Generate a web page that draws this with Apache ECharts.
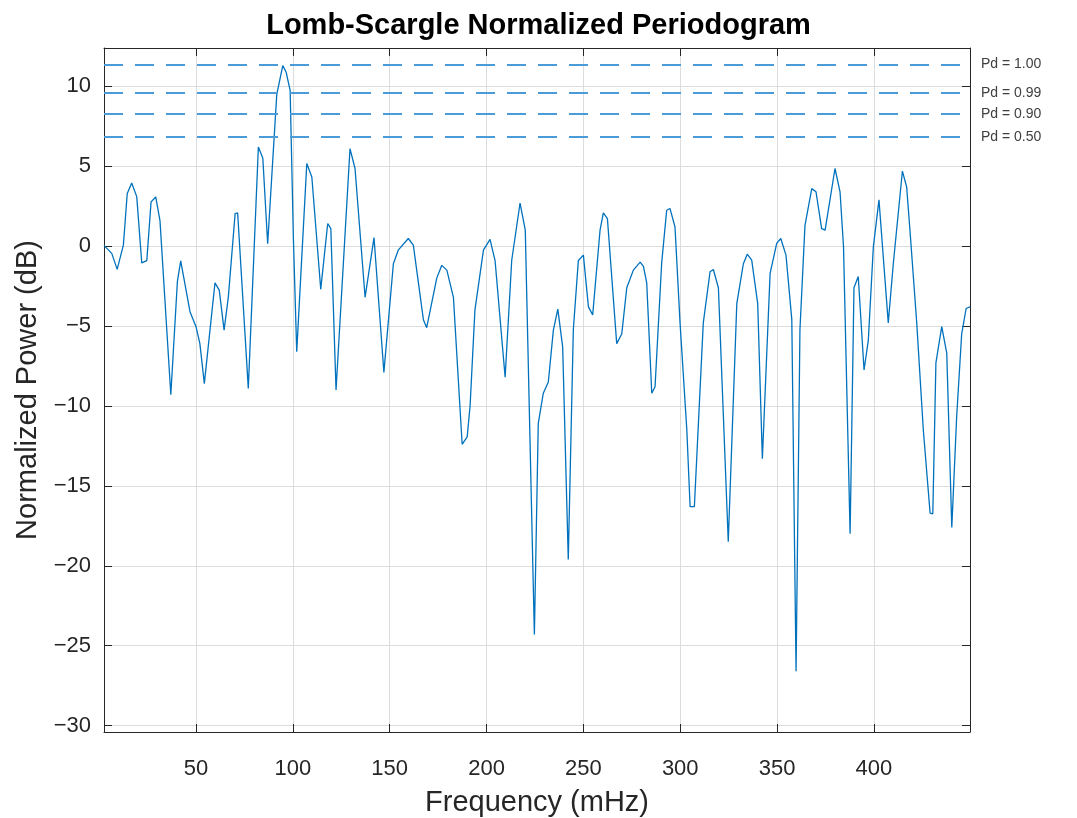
<!DOCTYPE html>
<html>
<head>
<meta charset="utf-8">
<script src="https://cdn.jsdelivr.net/npm/echarts@6/dist/echarts.min.js"></script>
<style>
  html, body { margin: 0; padding: 0; background: #ffffff; }
  #chart { width: 1077px; height: 818px; }
</style>
</head>
<body>
<div id="chart"></div>
<script>
// Frequency samples (mHz) and normalized power (dB)
const freq = [
  2.5, 6.5, 9.3, 12.5, 14.5, 16.8, 19.4, 22.0, 24.6, 26.8, 29.2, 31.4,
  37.0, 40.4, 42.1, 46.9, 50.0, 52.0, 54.3, 59.8, 62.0, 64.5, 66.7, 70.2,
  71.5, 77.0, 82.2, 84.5, 87.0, 91.7, 94.8, 96.5, 98.6, 100.3, 102.0, 107.2,
  109.8, 114.4, 118.0, 119.6, 122.3, 129.5, 132.1, 137.3, 141.9, 147.0, 151.9, 154.4,
  159.6, 162.2, 167.4, 169.1, 174.3, 176.9, 179.5, 182.9, 187.4, 190.0, 191.5, 194.0,
  198.4, 201.8, 204.4, 209.6, 213.0, 217.3, 220.0, 224.7, 226.7, 229.3, 231.9, 234.5,
  236.8, 239.3, 242.2, 244.8, 247.4, 250.0, 252.6, 254.8, 258.6, 260.3, 262.4, 267.2,
  269.8, 272.4, 275.8, 279.3, 281.0, 282.7, 285.3, 287.0, 290.4, 293.0, 294.7, 297.3,
  299.9, 303.4, 305.1, 307.3, 311.9, 315.4, 317.1, 319.7, 324.8, 329.2, 332.6, 334.6,
  336.9, 340.0, 342.4, 346.4, 349.8, 351.9, 354.6, 357.6, 359.8, 361.8, 364.4, 367.9,
  370.1, 373.0, 374.8, 379.9, 382.5, 384.3, 387.7, 389.7, 391.9, 394.9, 397.1, 399.7,
  402.6, 407.4, 410.0, 414.7, 416.9, 418.6, 422.1, 425.5, 429.0, 430.4, 432.0, 435.0,
  437.6, 440.2, 442.7, 445.3, 447.6, 449.6
];
const power = [
  0.05, -0.45, -1.45, 0.06, 3.3, 3.95, 3.1, -1.05, -0.9, 2.77, 3.08, 1.6,
  -9.3, -2.2, -0.92, -4.1, -5.04, -6.1, -8.6, -2.3, -2.75, -5.25, -3.17, 2.04,
  2.08, -8.9, 6.2, 5.5, 0.15, 9.5, 11.3, 10.9, 9.75, 0.4, -6.6, 5.17,
  4.33, -2.7, 1.42, 1.1, -9.0, 6.1, 4.86, -3.2, 0.54, -7.9, -1.1, -0.25,
  0.48, 0.06, -4.6, -5.1, -2.0, -1.2, -1.5, -3.2, -12.4, -11.94, -10.0, -4.0,
  -0.25, 0.42, -0.9, -8.2, -0.88, 2.7, 1.0, -24.3, -11.1, -9.2, -8.5, -5.25,
  -3.94, -6.3, -19.6, -5.25, -0.9, -0.56, -3.8, -4.3, 1.0, 2.08, 1.73, -6.1,
  -5.5, -2.6, -1.5, -1.0, -1.27, -2.3, -9.2, -8.8, -1.08, 2.25, 2.36, 1.2,
  -4.8, -11.5, -16.3, -16.3, -4.8, -1.6, -1.46, -2.6, -18.5, -3.6, -1.1, -0.5,
  -0.87, -3.6, -13.3, -1.7, 0.17, 0.48, -0.56, -4.6, -26.6, -5.25, 1.3, 3.6,
  3.4, 1.1, 1.0, 4.86, 3.4, -0.04, -18.0, -2.6, -1.9, -7.75, -5.9, -0.04,
  2.9, -4.8, -1.1, 4.7, 3.7, 1.0, -4.8, -11.5, -16.7, -16.75, -7.3, -5.04,
  -6.7, -17.6, -10.7, -5.5, -3.9, -3.8
];
// Detection-probability thresholds (dB) and their labels
const pdLevels = [11.36, 9.58, 8.29, 6.83];
const pdLabels = ['Pd = 1.00', 'Pd = 0.99', 'Pd = 0.90', 'Pd = 0.50'];

const xRange = [2.5, 449.6];
const yRange = [-30.4, 12.4];

const FONT = "'Liberation Sans', Arial, Helvetica, sans-serif";
const AXIS_COLOR = '#262626';
const GRID_COLOR = '#dcdcdc';

// Tick text uses a true minus sign for negative values
const tickText = (v, step) =>
  Math.abs(v % step) < 1e-6 ? (v < 0 ? '\u2212' + Math.abs(v) : String(v)) : '';

const chart = echarts.init(document.getElementById('chart'), null, { renderer: 'canvas' });

const points = freq.map((f, i) => [f, power[i]]);

// Secondary axes close the box and carry inward ticks on the top and right
const boxAxis = {
  type: 'value',
  axisLine: { show: true, onZero: false, lineStyle: { color: AXIS_COLOR, width: 1 } },
  axisTick: { show: true, inside: true, length: 8, lineStyle: { color: AXIS_COLOR, width: 1 } },
  axisLabel: { show: false },
  splitLine: { show: false }
};

chart.setOption({
  animation: false,
  backgroundColor: '#ffffff',
  title: {
    text: 'Lomb-Scargle Normalized Periodogram',
    left: 'center',
    top: 6,
    textStyle: { fontFamily: FONT, fontSize: 29, fontWeight: 'bold', color: '#000000' }
  },
  grid: {
    left: 104, right: 107, top: 48, bottom: 86,
    containLabel: false,
    outerBoundsMode: 'none'
  },
  xAxis: [
    {
      type: 'value',
      min: xRange[0], max: xRange[1], splitNumber: 9,
      name: 'Frequency (mHz)', nameLocation: 'middle', nameGap: 56,
      nameTextStyle: { fontFamily: FONT, fontSize: 29, color: AXIS_COLOR },
      axisLine: { show: true, onZero: false, lineStyle: { color: AXIS_COLOR, width: 1 } },
      axisTick: { show: true, inside: true, length: 8, lineStyle: { color: AXIS_COLOR } },
      axisLabel: {
        fontFamily: FONT, fontSize: 22, color: AXIS_COLOR, margin: 26,
        showMinLabel: false, showMaxLabel: false,
        formatter: v => tickText(v, 50)
      },
      splitLine: { show: true, lineStyle: { color: GRID_COLOR, width: 1 } }
    },
    Object.assign({}, boxAxis, { position: 'top', min: xRange[0], max: xRange[1], splitNumber: 9 })
  ],
  yAxis: [
    {
      type: 'value',
      min: yRange[0], max: yRange[1], splitNumber: 9,
      name: 'Normalized Power (dB)', nameLocation: 'middle', nameGap: 62,
      nameTextStyle: { fontFamily: FONT, fontSize: 29, color: AXIS_COLOR },
      axisLine: { show: true, onZero: false, lineStyle: { color: AXIS_COLOR, width: 1 } },
      axisTick: { show: true, inside: true, length: 8, lineStyle: { color: AXIS_COLOR } },
      axisLabel: {
        fontFamily: FONT, fontSize: 22, color: AXIS_COLOR, margin: 13,
        showMinLabel: false, showMaxLabel: false,
        formatter: v => tickText(v, 5)
      },
      splitLine: { show: true, lineStyle: { color: GRID_COLOR, width: 1 } }
    },
    Object.assign({}, boxAxis, { position: 'right', min: yRange[0], max: yRange[1], splitNumber: 9 })
  ],
  series: [
    {
      type: 'line',
      data: points,
      xAxisIndex: 0,
      yAxisIndex: 0,
      showSymbol: false,
      symbol: 'none',
      smooth: false,
      lineStyle: { color: '#0072BD', width: 1.3 },
      z: 3,
      markLine: {
        silent: true,
        symbol: 'none',
        lineStyle: { color: '#4a9bd8', width: 2, type: [19, 12] },
        label: {
          show: true,
          position: 'end',
          distance: 11,
          formatter: '{b}',
          fontFamily: FONT,
          fontSize: 14,
          color: '#404040'
        },
        data: pdLevels.map((v, i) => ({ yAxis: v, name: pdLabels[i] }))
      }
    }
  ]
});
</script>
</body>
</html>
